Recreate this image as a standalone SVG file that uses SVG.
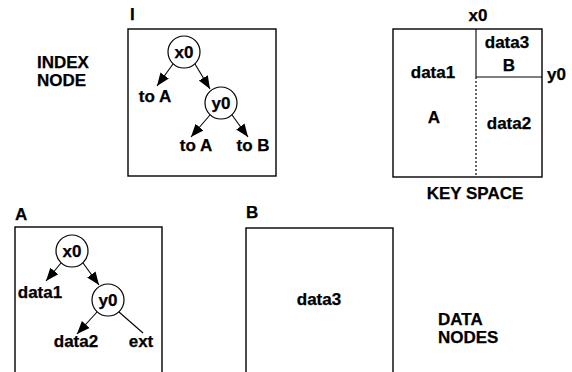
<svg xmlns="http://www.w3.org/2000/svg" width="572" height="372" viewBox="0 0 572 372">
<style>
text{font-family:"Liberation Sans",Arial,sans-serif;font-weight:bold;font-size:17px;fill:#000;stroke:#000;stroke-width:0.25}
.m{text-anchor:middle}
.box{fill:none;stroke:#000;stroke-width:1.4}
.c{fill:#fff;stroke:#000;stroke-width:1.2}
.ln{stroke:#000;stroke-width:1.1;fill:none}
.dot{stroke:#000;stroke-width:1.2;stroke-dasharray:2 2;fill:none}
</style>
<defs>
<marker id="ah" viewBox="0 0 10 10" refX="10" refY="5" markerWidth="13" markerHeight="13" markerUnits="userSpaceOnUse" orient="auto">
<path d="M0,1 L10,5 L0,9 Z" fill="#000"/>
</marker>
</defs>
<rect width="572" height="372" fill="#fff"/>
<g id="index-node">
<text x="37" y="68">INDEX</text>
<text x="37" y="86">NODE</text>
<text x="130" y="20">I</text>
<rect class="box" x="128" y="29" width="148" height="147"/>
</g>
<g id="connectors">
<line class="ln" x1="173" y1="64" x2="157" y2="86" marker-end="url(#ah)"/>
<line class="ln" x1="195" y1="64" x2="210" y2="89" marker-end="url(#ah)"/>
<line class="ln" x1="210" y1="115" x2="191" y2="137" marker-end="url(#ah)"/>
<line class="ln" x1="232" y1="115" x2="248" y2="137" marker-end="url(#ah)"/>
<line class="ln" x1="61" y1="263" x2="46" y2="281" marker-end="url(#ah)"/>
<line class="ln" x1="83" y1="263" x2="99" y2="285" marker-end="url(#ah)"/>
<line class="ln" x1="97" y1="312" x2="77" y2="334" marker-end="url(#ah)"/>
<line class="ln" x1="119" y1="312" x2="143" y2="333"/>
</g>
<g id="i-x0"><circle class="c" cx="184" cy="52" r="16"/><text class="m" x="184" y="58">x0</text></g>
<g id="i-toA1"><text class="m" x="155" y="102">to A</text></g>
<g id="i-y0"><circle class="c" cx="221" cy="103" r="16"/><text class="m" x="221" y="109">y0</text></g>
<g id="i-toA2"><text class="m" x="196" y="151">to A</text></g>
<g id="i-toB"><text class="m" x="253" y="151">to B</text></g>
<g id="key-space">
<text class="m" x="478" y="21">x0</text>
<rect class="box" x="393" y="29" width="149" height="148"/>
<line class="ln" x1="476" y1="29" x2="476" y2="77"/>
<line class="ln" x1="476" y1="77" x2="542" y2="77"/>
<line class="dot" x1="476" y1="77" x2="476" y2="177"/>
<text x="547" y="80">y0</text>
<text class="m" x="433" y="78">data1</text>
<text class="m" x="434" y="123">A</text>
<text class="m" x="507" y="48">data3</text>
<text class="m" x="509" y="71">B</text>
<text class="m" x="509" y="129">data2</text>
<text class="m" x="475" y="199">KEY SPACE</text>
</g>
<g id="node-A">
<text x="15" y="220">A</text>
<rect class="box" x="15" y="227" width="147" height="160"/>
</g>
<g id="a-x0"><circle class="c" cx="72" cy="251" r="16"/><text class="m" x="72" y="257">x0</text></g>
<g id="a-data1"><text class="m" x="40" y="298">data1</text></g>
<g id="a-y0"><circle class="c" cx="108" cy="300" r="16"/><text class="m" x="108" y="306">y0</text></g>
<g id="a-data2"><text class="m" x="76" y="347">data2</text></g>
<g id="a-ext"><text class="m" x="141" y="347">ext</text></g>
<g id="node-B">
<text x="246" y="218">B</text>
<rect class="box" x="246" y="228" width="147" height="160"/>
<text class="m" x="319" y="305">data3</text>
</g>
<g id="data-nodes-label">
<text x="438" y="325">DATA</text>
<text x="438" y="343">NODES</text>
</g>
</svg>
